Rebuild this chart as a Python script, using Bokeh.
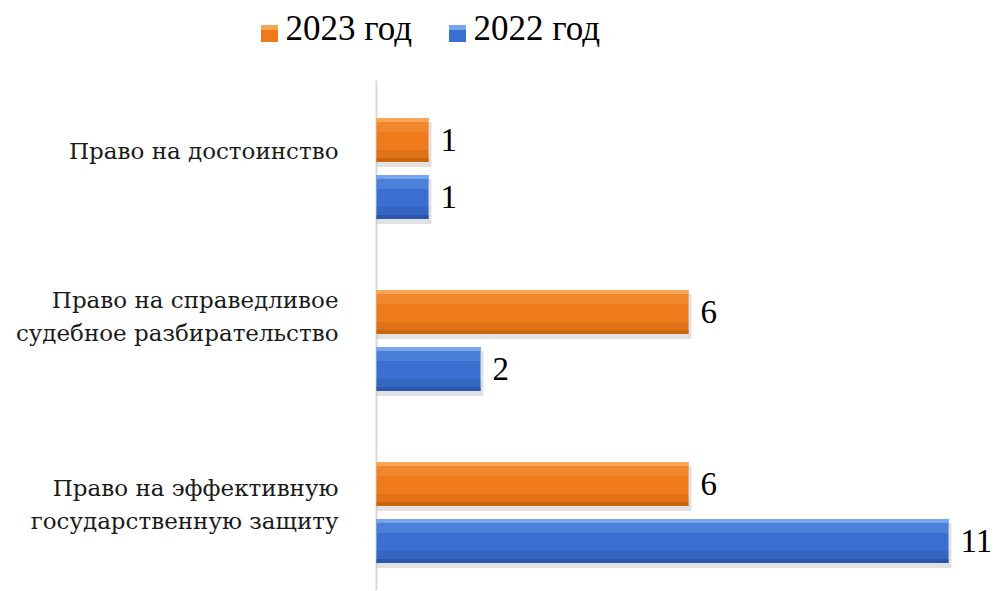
from bokeh.plotting import figure
from bokeh.models import Range1d
from bokeh.core.properties import value
from bokeh.embed import file_html
from bokeh.resources import INLINE

# ---- data ----
categories = [
    "Право на достоинство",
    "Право на справедливое\nсудебное разбирательство",
    "Право на эффективную\nгосударственную защиту",
]
series_names = ["2023 год", "2022 год"]
values_2023 = [1, 6, 6]
values_2022 = [1, 2, 11]

# ---- layout helpers (page pixel -> data) ----
ORIGIN = 0
X0_PX, X_SCALE = 376.0, 52.0      # x=0 position and px per unit
Y0_PX, Y_SCALE = 168.0, 172.0     # first category centre and px per category
W, H = 994, 590

def dx(px):
    return (px - X0_PX) / X_SCALE

def dy(py):
    return (py - Y0_PX) / Y_SCALE

FONT = "Liberation Serif"
LABEL_FONT = "DejaVu Serif"

p = figure(width=W, height=H, output_backend="svg", toolbar_location=None,
           x_range=Range1d(dx(ORIGIN), dx(ORIGIN + W)),
           y_range=Range1d(dy(ORIGIN + H), dy(ORIGIN)),
           min_border=0, min_border_left=0, min_border_right=0,
           min_border_top=0, min_border_bottom=0)
p.axis.visible = False
p.grid.visible = False
p.outline_line_color = None
p.background_fill_color = "white"
p.border_fill_color = "white"

bar_h = 44 / Y_SCALE
off = 28.5 / Y_SCALE
idx = list(range(len(categories)))

styles = [
    (values_2023, -off, "#EE7A1C", "#F9A654", "#C9640F"),
    (values_2022, off, "#3A6FCF", "#76A5EE", "#2C57A8"),
]

# axis line
p.segment(x0=[0], x1=[0], y0=[dy(80)], y1=[dy(592)], line_color="#D9D9D9", line_width=2)

for vals, o, main, light, dark in styles:
    yc = [i + o for i in idx]
    n = len(vals)
    # shadow
    p.quad(left=[0.0] * n, right=[v + 3 / X_SCALE for v in vals],
           top=[y - bar_h / 2 + 4 / Y_SCALE for y in yc],
           bottom=[y + bar_h / 2 + 5 / Y_SCALE for y in yc],
           fill_color="#9a9a9a", fill_alpha=0.3, line_color=None)
    # main bar
    p.quad(left=[0.0] * n, right=vals,
           top=[y - bar_h / 2 for y in yc], bottom=[y + bar_h / 2 for y in yc],
           fill_color=main, line_color=None)
    # top highlight (bevel)
    p.quad(left=[0.0] * n, right=vals,
           top=[y - bar_h / 2 for y in yc], bottom=[y - bar_h / 2 + 4 / Y_SCALE for y in yc],
           fill_color=light, line_color=None)
    p.quad(left=[0.0] * n, right=vals,
           top=[y - bar_h / 2 + 4 / Y_SCALE for y in yc], bottom=[y - bar_h / 2 + 14 / Y_SCALE for y in yc],
           fill_color=light, fill_alpha=0.3, line_color=None)
    # bottom shade
    p.quad(left=[0.0] * n, right=vals,
           top=[y + bar_h / 2 - 12 / Y_SCALE for y in yc], bottom=[y + bar_h / 2 - 4 / Y_SCALE for y in yc],
           fill_color=dark, fill_alpha=0.35, line_color=None)
    p.quad(left=[0.0] * n, right=vals,
           top=[y + bar_h / 2 - 4 / Y_SCALE for y in yc], bottom=[y + bar_h / 2 for y in yc],
           fill_color=dark, line_color=None)
    # value labels
    p.text(x=vals, y=yc, text=[str(v) for v in vals], x_offset=12,
           text_font=value(FONT), text_font_size="33px", text_color="black",
           text_baseline="middle", text_align="left")

# category labels
label_shift_px = [-18, -24, -8]
p.text(x=[0.0] * len(categories), y=[i + s / Y_SCALE for i, s in zip(idx, label_shift_px)],
       text=categories, x_offset=-38, text_align="right", text_baseline="middle",
       text_font=value(LABEL_FONT), text_font_size="23px", text_color="#1a1a1a",
       text_line_height=1.25)

# legend
legend_sq_x = [269, 457]
legend_tx_x = [285, 473]
legend_cols = [("#EE7A1C", "#F9A654"), ("#3A6FCF", "#76A5EE")]
for sx, tx, name, (c, lc) in zip(legend_sq_x, legend_tx_x, series_names, legend_cols):
    p.rect(x=[dx(sx)], y=[dy(33)], width=17, height=17, width_units="screen",
           height_units="screen", fill_color=c, line_color=None)
    p.rect(x=[dx(sx)], y=[dy(27)], width=17, height=5, width_units="screen",
           height_units="screen", fill_color=lc, line_color=None)
    p.text(x=[dx(tx)], y=[dy(28)], text=[name], text_font=value(FONT),
           text_font_size="35px", text_color="black", text_baseline="middle",
           text_align="left")

open("out.html", "w").write(file_html(p, INLINE))
